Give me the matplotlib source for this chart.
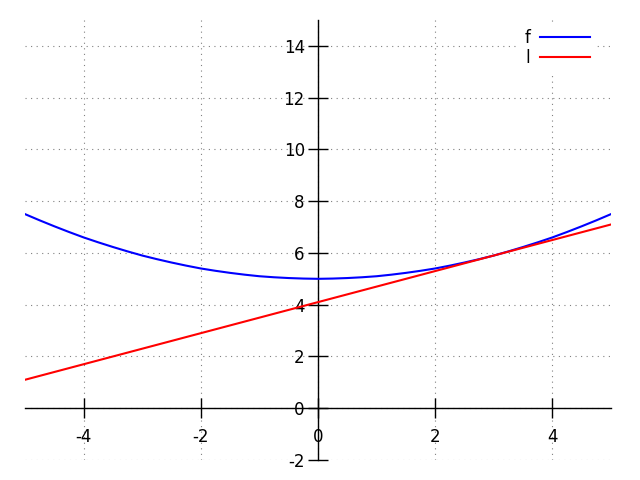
import matplotlib
matplotlib.use("Agg")
import matplotlib.pyplot as plt

# data
f_x = [-5.0, -4.75, -4.5, -4.25, -4.0, -3.75, -3.5, -3.25, -3.0, -2.75,
       -2.5, -2.25, -2.0, -1.75, -1.5, -1.25, -1.0, -0.75, -0.5, -0.25,
       0.0, 0.25, 0.5, 0.75, 1.0, 1.25, 1.5, 1.75, 2.0, 2.25,
       2.5, 2.75, 3.0, 3.25, 3.5, 3.75, 4.0, 4.25, 4.5, 4.75, 5.0]
f_y = [7.5, 7.26, 7.03, 6.81, 6.6, 6.41, 6.23, 6.06, 5.9, 5.76,
       5.63, 5.51, 5.4, 5.31, 5.23, 5.16, 5.1, 5.06, 5.03, 5.01,
       5.0, 5.01, 5.03, 5.06, 5.1, 5.16, 5.23, 5.31, 5.4, 5.51,
       5.63, 5.76, 5.9, 6.06, 6.23, 6.41, 6.6, 6.81, 7.03, 7.26, 7.5]
l_x = [-5.0, 5.0]
l_y = [1.1, 7.1]
x_ticks = [-4, -2, 0, 2, 4]
y_ticks = [-2, 0, 2, 4, 6, 8, 10, 12, 14]

fig = plt.figure(figsize=(6.4, 4.8), dpi=100)
ax = fig.add_axes([25/640, 20/480, 586/640, 440/480])

ax.plot(f_x, f_y, color="#0000ff", lw=1.5, label="f", zorder=3)
ax.plot(l_x, l_y, color="#ff0000", lw=1.5, label="l", zorder=3)

ax.set_xlim(-5, 5)
ax.set_ylim(-2, 15)
ax.set_xticks(x_ticks)
ax.set_yticks(y_ticks)
ax.set_xticklabels([str(v) for v in x_ticks])
ax.set_yticklabels([str(v) for v in y_ticks])

for s in ["top", "right"]:
    ax.spines[s].set_visible(False)
ax.spines["left"].set_position(("data", 0))
ax.spines["bottom"].set_position(("data", 0))
ax.spines["left"].set_linewidth(1.0)
ax.spines["bottom"].set_linewidth(1.0)

ax.tick_params(direction="inout", length=15, width=1.0, labelsize=12)
ax.tick_params(axis="x", pad=7)
ax.tick_params(axis="y", pad=2)

ax.grid(True, color="#808080", linestyle=(0, (1, 4)), linewidth=0.8)
ax.set_axisbelow(True)

leg = ax.legend(loc="upper right", frameon=True, markerfirst=False,
                fontsize=12, handlelength=3.0, borderaxespad=0.0,
                handletextpad=0.6, labelspacing=0.13,
                bbox_to_anchor=(597/640, 458/480),
                bbox_transform=fig.transFigure)
leg.get_frame().set_edgecolor("none")
leg.get_frame().set_facecolor("white")
leg.get_frame().set_alpha(1.0)

fig.savefig("out.png", dpi=100)
